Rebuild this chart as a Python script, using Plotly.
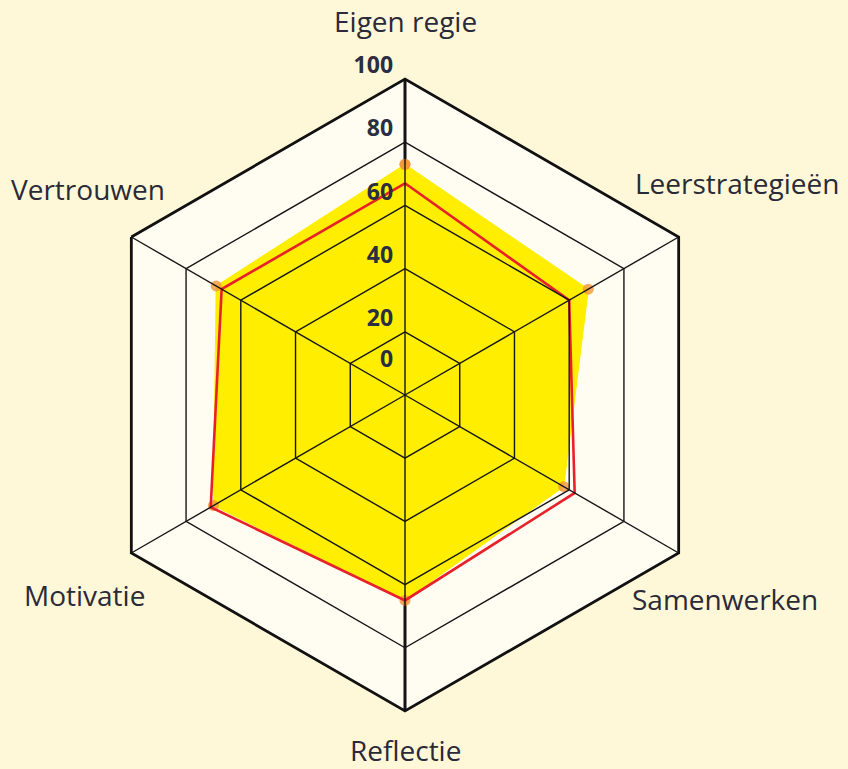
import math
import plotly.graph_objects as go

categories = ["Eigen regie", "Leerstrategieën", "Samenwerken", "Reflectie", "Motivatie", "Vertrouwen"]
series_yellow = [73, 67, 58, 65, 70, 69]
series_red = [67, 60, 62, 65, 71, 67]
radial_ticks = [0, 20, 40, 60, 80, 100]

W, H = 848, 769
cx, cy, R = 405, 395, 316
RMAX = radial_ticks[-1]

def closed(v):
    return list(v) + [v[0]]

# grid overlay (drawn above the filled area, as in the reference)
ring_r, ring_t = [], []
for t in radial_ticks[1:-1]:
    ring_r += closed([t] * len(categories)) + [None]
    ring_t += closed(categories) + [None]
spoke_r, spoke_t = [], []
for c in categories:
    spoke_r += [0, RMAX, None]
    spoke_t += [c, c, None]
vert_cats = [categories[0], categories[3]]
vspoke_r, vspoke_t = [], []
for c in vert_cats:
    vspoke_r += [0, RMAX, None]
    vspoke_t += [c, c, None]

fig = go.Figure()
fig.add_trace(go.Scatterpolar(
    r=closed(series_yellow), theta=closed(categories),
    mode="lines", line=dict(color="rgba(0,0,0,0)", width=0),
    showlegend=False, hoverinfo="skip",
))
fig.add_trace(go.Scatterpolar(
    r=vspoke_r, theta=vspoke_t, mode="lines", connectgaps=False,
    line=dict(color="#111", width=3), showlegend=False, hoverinfo="skip",
))
fig.add_trace(go.Scatterpolar(
    r=closed(series_yellow), theta=closed(categories),
    mode="lines+markers", fill="toself",
    fillcolor="#FFEE00", line=dict(color="#FFEE00", width=1),
    marker=dict(color="rgba(242,150,55,0.8)", size=11),
    showlegend=False, hoverinfo="skip",
))
fig.add_trace(go.Scatterpolar(
    r=closed(series_red), theta=closed(categories),
    mode="lines", line=dict(color="#E8202A", width=2.6),
    showlegend=False, hoverinfo="skip",
))
fig.add_trace(go.Scatterpolar(
    r=ring_r, theta=ring_t, mode="lines", connectgaps=False,
    line=dict(color="#151515", width=1.4), showlegend=False, hoverinfo="skip",
))
fig.add_trace(go.Scatterpolar(
    r=spoke_r, theta=spoke_t, mode="lines", connectgaps=False,
    line=dict(color="#151515", width=1.4), showlegend=False, hoverinfo="skip",
))
# radial tick labels, just above each ring on the top spoke
fig.add_trace(go.Scatterpolar(
    r=[max(t, 7) for t in radial_ticks],
    theta=[categories[0]] * len(radial_ticks),
    mode="text", text=[f"{t}  " for t in radial_ticks],
    textposition="top left", cliponaxis=False,
    textfont=dict(size=23, color="#2b2d40", family="Open Sans, sans-serif", weight="bold"),
    showlegend=False, hoverinfo="skip",
))

# category labels placed around the hexagon
label_dist = [374, 394, 380, 355, 378, 378]
label_ang = [90, 32.5, -32.5, -90, 212, 147]
annotations = []
for name, d, a in zip(categories, label_dist, label_ang):
    px = cx + d * math.cos(math.radians(a))
    py = cy - d * math.sin(math.radians(a))
    annotations.append(dict(
        text=name, x=px / W, y=1 - py / H, xref="paper", yref="paper",
        xanchor="center", yanchor="middle", showarrow=False,
        font=dict(size=28, color="#2a2a38", family="Open Sans, sans-serif"),
    ))

fig.update_layout(
    width=W, height=H,
    margin=dict(l=0, r=0, t=0, b=0),
    paper_bgcolor="#FEF8D9",
    font=dict(family="Open Sans, sans-serif", color="#222"),
    annotations=annotations,
    polar=dict(
        domain=dict(x=[(cx - R) / W, (cx + R) / W], y=[1 - (cy + R) / H, 1 - (cy - R) / H]),
        gridshape="linear",
        bgcolor="#FFFDF2",
        radialaxis=dict(
            range=[0, RMAX], tickvals=radial_ticks,
            showticklabels=False, showline=False, showgrid=False, ticks="",
        ),
        angularaxis=dict(
            type="category", categoryorder="array", categoryarray=categories,
            direction="clockwise", rotation=90,
            showline=True, linecolor="#111", linewidth=2.8,
            showgrid=False, showticklabels=False, ticks="",
        ),
    ),
)

fig.write_html("out.html", config={"displayModeBar": False},
               post_script="document.body.style.margin='0';")
